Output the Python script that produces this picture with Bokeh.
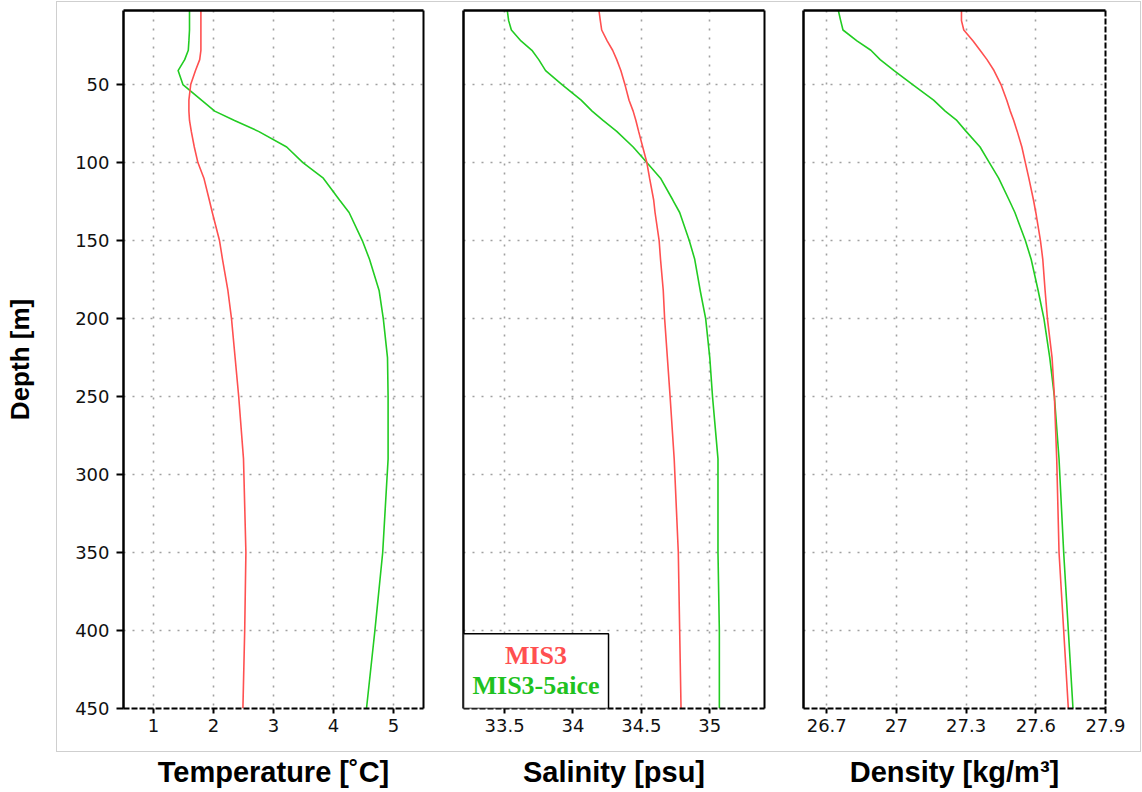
from bokeh.plotting import figure
from bokeh.models import Range1d, FixedTicker, LinearAxis, BoxAnnotation, Label, InlineStyleSheet
from bokeh.layouts import row
from bokeh.embed import file_html
from bokeh.resources import INLINE

# ---------------- data ----------------
depth = [2.5, 9, 15, 22, 28, 34, 41, 50, 60, 67, 73, 80, 90, 100, 110, 124, 132,
         150, 162, 182, 200, 225, 250, 290, 350, 400, 450]

temp_mis3 = [1.79, 1.79, 1.79, 1.79, 1.79, 1.77, 1.70, 1.62, 1.59, 1.59, 1.60, 1.63, 1.68,
             1.74, 1.84, 1.93, 1.98, 2.10, 2.15, 2.24, 2.30, 2.36, 2.42, 2.50, 2.54, 2.52, 2.49]
temp_5aice = [1.60, 1.60, 1.60, 1.59, 1.58, 1.52, 1.41, 1.49, 1.80, 2.02, 2.35, 2.75, 3.22,
              3.49, 3.83, 4.10, 4.26, 4.48, 4.60, 4.76, 4.83, 4.90, 4.91, 4.91, 4.82, 4.69, 4.55]

sal_mis3 = [34.19, 34.20, 34.21, 34.25, 34.29, 34.32, 34.35, 34.38, 34.41, 34.44, 34.46, 34.48,
            34.51, 34.54, 34.56, 34.59, 34.60, 34.63, 34.64, 34.66, 34.67, 34.69, 34.71, 34.74,
            34.77, 34.78, 34.79]
sal_5aice = [33.52, 33.53, 33.55, 33.62, 33.70, 33.75, 33.80, 33.92, 34.06, 34.14, 34.22, 34.32,
             34.44, 34.54, 34.64, 34.73, 34.78, 34.85, 34.89, 34.93, 34.97, 35.00, 35.02, 35.06,
             35.06, 35.07, 35.07]

dens_mis3 = [27.28, 27.28, 27.29, 27.33, 27.36, 27.39, 27.42, 27.45, 27.475, 27.49, 27.505, 27.52,
             27.54, 27.555, 27.57, 27.59, 27.60, 27.62, 27.63, 27.64, 27.65, 27.67, 27.68, 27.69,
             27.70, 27.72, 27.74]
dens_5aice = [26.75, 26.76, 26.77, 26.83, 26.89, 26.93, 26.99, 27.07, 27.16, 27.21, 27.26, 27.30,
              27.36, 27.40, 27.44, 27.485, 27.51, 27.555, 27.58, 27.61, 27.635, 27.66, 27.68, 27.70,
              27.72, 27.74, 27.76]

series_names = ["MIS3", "MIS3-5aice"]

depth_ticks = [50, 100, 150, 200, 250, 300, 350, 400, 450]
temp_ticks = [1, 2, 3, 4, 5]
temp_tick_labels = ["1", "2", "3", "4", "5"]
sal_ticks = [33.5, 34, 34.5, 35]
sal_tick_labels = ["33.5", "34", "34.5", "35"]
dens_ticks = [26.7, 27.0, 27.3, 27.6, 27.9]
dens_tick_labels = ["26.7", "27", "27.3", "27.6", "27.9"]

titles = ["Temperature [\u02daC]", "Salinity [psu]", "Density [kg/m\u00b3]"]
depth_title = "Depth [m]"

# ---------------- style ----------------
RED = "#ff5050"
GREEN = "#22cc22"
TICK_FONT = "DejaVu Sans"
TITLE_FONT = "Liberation Sans"
GRID_COLOR = "#a0a0a0"
FRAME_H = 698


def blank_axis(width, dash="solid"):
    return LinearAxis(ticker=FixedTicker(ticks=[]), axis_line_width=width,
                      axis_line_color="black", axis_line_dash=dash,
                      major_tick_in=0, major_tick_out=0, minor_tick_in=0, minor_tick_out=0,
                      major_label_standoff=0)


def make_panel(red_x, green_x, xr, xticks, xlabels, title, frame_w, bl, br, first, dashed_right):
    p = figure(frame_width=frame_w, frame_height=FRAME_H,
               x_range=Range1d(*xr), y_range=Range1d(450, 2.5),
               min_border_left=bl, min_border_right=br, min_border_top=10, min_border_bottom=70,
               output_backend="svg", toolbar_location=None,
               background_fill_color="white", border_fill_color="white")
    p.outline_line_color = None

    # x axis
    xa = p.xaxis[0]
    xa.ticker = FixedTicker(ticks=xticks)
    xa.major_label_overrides = dict(zip(xticks, xlabels))
    xa.axis_label = title
    xa.axis_label_text_font = TITLE_FONT
    xa.axis_label_text_font_size = "29px"
    xa.axis_label_text_font_style = "bold"
    xa.axis_label_text_color = "black"
    xa.axis_label_standoff = 21
    xa.major_label_text_font = TICK_FONT
    xa.major_label_text_font_size = "18px"
    xa.major_label_text_color = "#111111"
    xa.major_label_standoff = 5
    xa.major_tick_out = 5
    xa.major_tick_in = 0
    xa.minor_tick_out = 0
    xa.minor_tick_in = 0
    xa.major_tick_line_width = 2
    xa.major_tick_line_color = "black"
    xa.axis_line_width = 2
    xa.axis_line_color = "black"
    xa.axis_line_dash = "6 2"

    # y axis
    ya = p.yaxis[0]
    ya.axis_line_width = 2.5
    ya.axis_line_color = "black"
    ya.major_tick_in = 0
    ya.minor_tick_out = 0
    ya.minor_tick_in = 0
    ya.major_tick_line_width = 2
    ya.major_tick_line_color = "black"
    if first:
        ya.ticker = FixedTicker(ticks=depth_ticks)
        ya.axis_label = depth_title
        ya.axis_label_text_font = TITLE_FONT
        ya.axis_label_text_font_size = "26px"
        ya.axis_label_text_font_style = "bold"
        ya.axis_label_text_color = "black"
        ya.axis_label_standoff = 37
        ya.major_label_text_font = TICK_FONT
        ya.major_label_text_font_size = "18px"
        ya.major_label_text_color = "#111111"
        ya.major_label_standoff = 7
        ya.major_tick_out = 7
    else:
        ya.ticker = FixedTicker(ticks=[])
        ya.major_tick_out = 0
        ya.major_label_standoff = 0

    # grid
    p.xgrid[0].ticker = FixedTicker(ticks=xticks)
    p.ygrid[0].ticker = FixedTicker(ticks=depth_ticks)
    for g in (p.xgrid[0], p.ygrid[0]):
        g.grid_line_color = GRID_COLOR
        g.grid_line_dash = "2 7"
        g.grid_line_width = 1.6

    # frame top / right
    p.add_layout(blank_axis(2.5), "above")
    p.add_layout(blank_axis(2, "6 2" if dashed_right else "solid"), "right")

    p.line(x=green_x, y=depth, line_color=GREEN, line_width=1.6)
    p.line(x=red_x, y=depth, line_color=RED, line_width=1.6)
    return p


p1 = make_panel(temp_mis3, temp_5aice, (0.5, 5.5), temp_ticks, temp_tick_labels, titles[0],
                300, 123, 20, True, False)
p2 = make_panel(sal_mis3, sal_5aice, (33.2, 35.4), sal_ticks, sal_tick_labels, titles[1],
                301, 20, 19, False, False)
p3 = make_panel(dens_mis3, dens_5aice, (26.6, 27.9), dens_ticks, dens_tick_labels, titles[2],
                302, 20, 36, False, True)

# legend inside the salinity panel
p2.add_layout(BoxAnnotation(left=33.2, right=34.26, top=402, bottom=450,
                            fill_color="white", fill_alpha=1.0,
                            line_color="black", line_alpha=1.0, line_width=1.5))
for name, color, yy in zip(series_names, [RED, "#1fc21f"], [415.8, 435.5]):
    p2.add_layout(Label(x=33.73, y=yy, text=name, text_align="center", text_baseline="middle",
                        text_font="Liberation Serif", text_font_style="bold",
                        text_font_size="26px", text_color=color))

# light gray outer frame around the plotting area (pure decoration, via CSS)
frame_css = InlineStyleSheet(css="""
:host { position: relative; }
:host::after {
  content: '';
  position: absolute;
  left: 56px; top: 1px;
  width: 1085px; height: 751px;
  box-sizing: border-box;
  border: 1px solid #cfcfcf;
  pointer-events: none;
}
""")

layout = row(p1, p2, p3, stylesheets=[frame_css])
open("out.html", "w").write(file_html(layout, INLINE, "profiles"))
